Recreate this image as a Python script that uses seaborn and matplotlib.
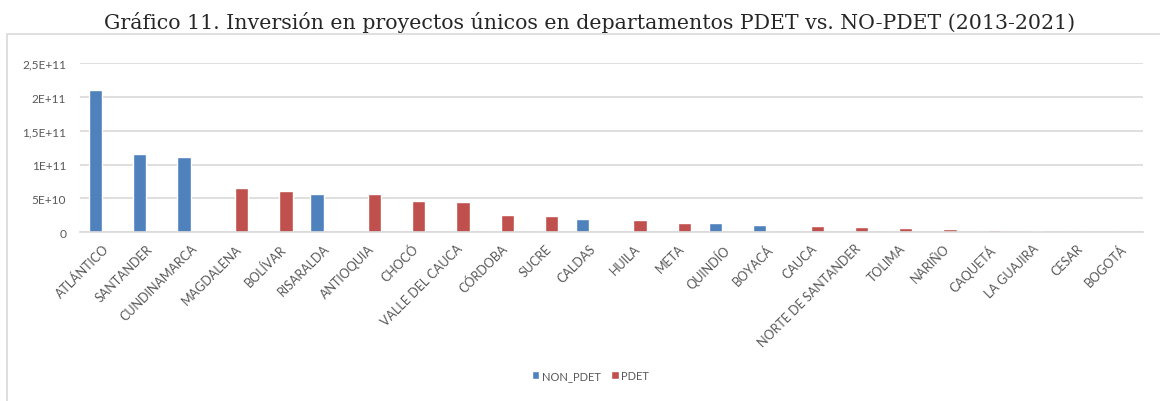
import pandas as pd
import numpy as np
import matplotlib
matplotlib.use('Agg')
import matplotlib.pyplot as plt
import seaborn as sns

departamentos = ['ATLÁNTICO', 'SANTANDER', 'CUNDINAMARCA', 'MAGDALENA', 'BOLÍVAR',
                 'RISARALDA', 'ANTIOQUIA', 'CHOCÓ', 'VALLE DEL CAUCA', 'CÓRDOBA',
                 'SUCRE', 'CALDAS', 'HUILA', 'META', 'QUINDÍO', 'BOYACÁ', 'CAUCA',
                 'NORTE DE SANTANDER', 'TOLIMA', 'NARIÑO', 'CAQUETÁ', 'LA GUAJIRA',
                 'CESAR', 'BOGOTÁ']

non_pdet = [2.10e11, 1.155e11, 1.12e11, 0, 0, 5.7e10, 0, 0, 0, 0,
            0, 2.0e10, 0, 0, 1.3e10, 1.1e10, 0, 0, 0, 0, 0, 0, 0, 1.0e8]
pdet = [0, 0, 0, 6.5e10, 6.1e10, 0, 5.6e10, 4.6e10, 4.4e10, 2.5e10,
        2.4e10, 0, 1.8e10, 1.3e10, 0, 0, 8.5e9, 7.4e9, 6.4e9, 4.4e9,
        3.0e9, 1.5e9, 3.0e8, 0]

y_ticks = [0, 5e10, 1e11, 1.5e11, 2e11, 2.5e11]
y_labels = ['0', '5E+10', '1E+11', '1,5E+11', '2E+11', '2,5E+11']

df = pd.DataFrame({
    'departamento': departamentos * 2,
    'valor': non_pdet + pdet,
    'tipo': ['NON_PDET'] * len(departamentos) + ['PDET'] * len(departamentos),
})

sns.set_style("white")
plt.rcParams['font.family'] = ['Lato', 'DejaVu Sans']

fig = plt.figure(figsize=(11.6, 4.02), dpi=100)
ax = fig.add_axes([0.069, 0.42, 0.916, 0.42])

sns.barplot(x='departamento', y='valor', hue='tipo', data=df, order=departamentos,
            hue_order=['NON_PDET', 'PDET'], palette=['#4f81bd', '#c0504d'],
            saturation=1, width=0.6, ax=ax, errorbar=None)

ax.set_ylim(0, 2.5e11)
ax.set_xlim(-0.5, len(departamentos) - 0.5)
ax.set_yticks(y_ticks)
ax.set_yticklabels(y_labels)
ax.grid(axis='y', color='#d9d9d9', linewidth=1.2)
ax.set_axisbelow(True)
for s in ['top', 'right', 'left']:
    ax.spines[s].set_visible(False)
ax.spines['bottom'].set_color('#d9d9d9')
ax.spines['bottom'].set_linewidth(1.2)
ax.tick_params(axis='both', length=0, colors='#595959', labelsize=8.6)
ax.tick_params(axis='x', labelsize=9, pad=7)
ax.tick_params(axis='y', pad=10)
plt.setp(ax.get_xticklabels(), rotation=45, ha='right', rotation_mode='anchor')
ax.set_xlabel('')
ax.set_ylabel('')

ax.legend(loc='center', bbox_to_anchor=(0.509, 0.063), bbox_transform=fig.transFigure,
          ncol=2, frameon=False, fontsize=8, handlelength=0.7, handleheight=0.7,
          handletextpad=0.2, columnspacing=1.0, labelcolor='#595959')

fig.patches.append(plt.Rectangle((0.006, -0.05), 1.2, 0.963, transform=fig.transFigure,
                                 fill=False, edgecolor='#d9d9d9', linewidth=1.2))

fig.text(0.508, 0.945, 'Gráfico 11. Inversión en proyectos únicos en departamentos PDET vs. NO-PDET (2013-2021)',
         ha='center', va='center', fontsize=14.8, family=['DejaVu Serif'])

fig.savefig('out.png', dpi=100)
